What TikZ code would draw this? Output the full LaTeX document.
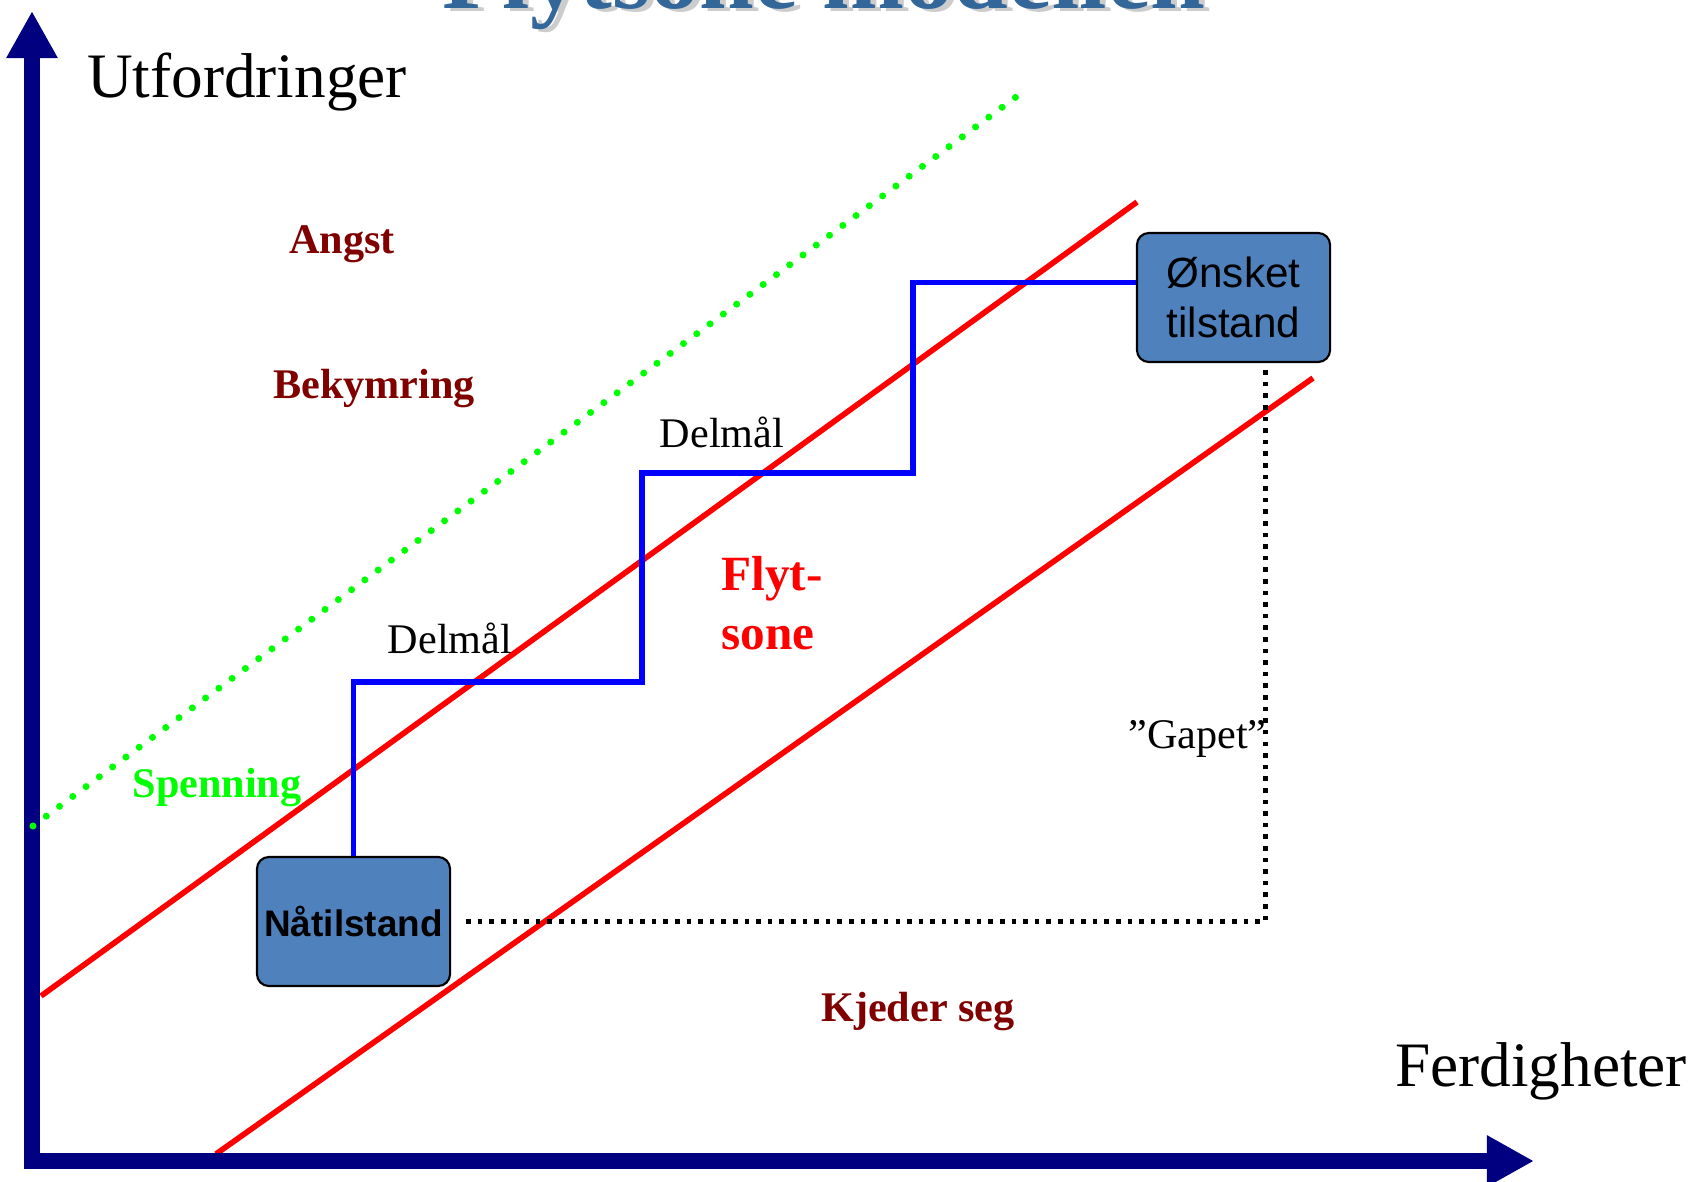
\documentclass[tikz,border=0pt]{standalone}
\usepackage{fontspec}
\setmainfont{Liberation Serif}
\setsansfont{Liberation Sans}
\usetikzlibrary{arrows.meta,calc}
\definecolor{navy}{HTML}{000080}
\definecolor{darkred}{HTML}{800000}
\definecolor{flygreen}{HTML}{00FF00}
\definecolor{boxblue}{HTML}{4F81BD}
\definecolor{titleblue}{HTML}{336699}
\begin{document}
\begin{tikzpicture}[x=0.01cm,y=-0.01cm,
 axis/.style={draw=navy,line width=4.3pt,line join=miter,{Triangle[length=0.47cm,width=0.48cm]}-{Triangle[length=0.47cm,width=0.48cm]}},
 zone/.style={draw=red,line width=1.6pt},
 stair/.style={draw=blue,line width=1.6pt},
 tense/.style={draw=flygreen,line width=2pt,line cap=round,dash pattern=on 0pt off 4.7pt},
 gap/.style={draw=black,line width=1.3pt,dash pattern=on 1.3pt off 2pt},
 state/.style={rounded corners=3.4pt,draw=black,fill=boxblue,line width=0.6pt,minimum width=1.93cm,minimum height=1.29cm,inner sep=1pt,align=center,font=\sffamily\fontsize{12}{14.2}\selectfont},
 mood/.style={text=darkred,font=\bfseries\fontsize{12}{14}\selectfont},
 lbl/.style={font=\fontsize{12}{14}\selectfont},
 axlbl/.style={font=\fontsize{18}{21}\selectfont},
 headline/.style={anchor=base,font=\bfseries\fontsize{28}{30}\selectfont}]
\useasboundingbox (0,0) rectangle (1694,1182);
\clip (0,0) rectangle (1694,1182);
\node[headline,text=black!20] (shadow) at (830,12) {Flytsone modellen};
\node[headline,text=titleblue] (title) at (824,9) {Flytsone modellen};
\draw[zone] (41,996) -- (1137,202);
\draw[zone] (216,1154) -- (1313,378);
\draw[axis] (32,11) -- (32,1161) -- (1534,1161);
\draw[tense] (33,826) -- (1016,97);
\node[state,font=\sffamily\bfseries\fontsize{10.5}{12}\selectfont] (naa) at (353.5,921.5) {Nåtilstand};
\node[state] (onsk) at (1233.5,297.5) {Ønsket\\tilstand};
\draw[stair] (naa.north) |- (642,682) |- (913,473) |- ($(onsk.west)+(0,-15)$);
\draw[gap] ($(naa.east)+(15,0)$) -| ($(onsk.south)+(32,7)$);
\node[mood] (angst) at (342,244) {Angst};
\node[mood] (bekym) at (374,389) {Bekymring};
\node[mood,text=flygreen] (spenn) at (217,788) {Spenning};
\node[mood,text=red,font=\bfseries\fontsize{14}{16.8}\selectfont,align=left,anchor=west] (flyt) at (709,603) {Flyt-\\sone};
\node[mood] (kjed) at (918,1012) {Kjeder seg};
\node[lbl] (delm1) at (450,638) {Delmål};
\node[lbl] (delm2) at (722,432) {Delmål};
\node[lbl,anchor=east] (gapet) at (1279,739) {”Gapet”};
\node[axlbl] (utf) at (247,82) {Utfordringer};
\node[axlbl] (ferd) at (1541,1071) {Ferdigheter};
\end{tikzpicture}
\end{document}
